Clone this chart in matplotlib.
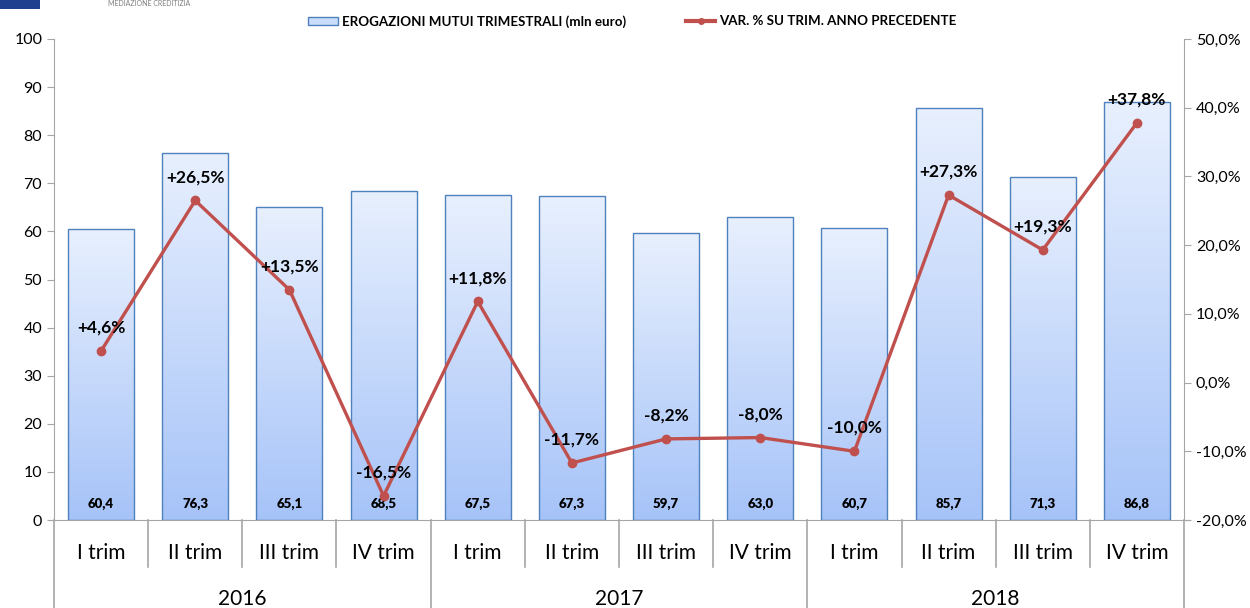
import matplotlib
matplotlib.use("Agg")
from matplotlib import pyplot as plt
from matplotlib.lines import Line2D
from matplotlib.patches import Patch, Rectangle
import matplotlib.ticker as ticker
import numpy as np

plt.rcParams['font.family'] = ['Lato', 'DejaVu Sans']

# Dati
trimestri = ['I trim', 'II trim', 'III trim', 'IV trim'] * 3
anni = ['2016', '2017', '2018']
erogazioni = [60.4, 76.3, 65.1, 68.5, 67.5, 67.3, 59.7, 63.0, 60.7, 85.7, 71.3, 86.8]
var_pct = [4.6, 26.5, 13.5, -16.5, 11.8, -11.7, -8.2, -8.0, -10.0, 27.3, 19.3, 37.8]

bar_edge = '#4f81bd'
line_col = '#c0504d'
axis_col = '#a6a6a6'

fig = plt.figure(figsize=(12.5, 6.08), dpi=100)
ax = fig.add_axes([54 / 1250, 88 / 608, 1130 / 1250, 481 / 608])
ax2 = ax.twinx()

x = np.arange(len(erogazioni))
bars = ax.bar(x, erogazioni, width=0.7, facecolor='none', edgecolor=bar_edge, linewidth=1.0, zorder=3)

# gradiente nelle barre
grad = np.linspace(0, 1, 256).reshape(-1, 1)
cmap = matplotlib.colors.LinearSegmentedColormap.from_list('g', ['#e8f0fe', '#a6c3f8'])
for b in bars:
    bx, by = b.get_x(), b.get_y()
    bw, bh = b.get_width(), b.get_height()
    im = ax.imshow(grad, cmap=cmap, aspect='auto', extent=[bx, bx + bw, by, by + bh],
                   origin='upper', zorder=2)
    im.set_clip_path(b)

ax.set_xlim(-0.5, len(x) - 0.5)
ax.set_ylim(0, 100)
ax.yaxis.set_major_locator(ticker.MultipleLocator(10))

for i, v in enumerate(erogazioni):
    ax.text(i, 3.4, f"{v:.1f}".replace('.', ','), ha='center', va='center',
            fontsize=9.5, fontweight='heavy', zorder=5)

# linea variazione
ax2.plot(x, var_pct, color=line_col, lw=2.4, marker='o', ms=6, zorder=6)
ax2.set_ylim(-20, 50)
ax2.yaxis.set_major_locator(ticker.MultipleLocator(10))
ax2.yaxis.set_major_formatter(ticker.FuncFormatter(lambda v, _: f"{v:.1f}%".replace('.', ',')))
for i, v in enumerate(var_pct):
    s = ("+" if v > 0 else "") + f"{v:.1f}%".replace('.', ',')
    ax2.annotate(s, (i, v), xytext=(0, 11), textcoords='offset points', ha='center',
                 va='bottom', fontsize=12.5, fontweight='bold', zorder=7)

# assi
for a in (ax, ax2):
    a.spines['top'].set_visible(False)
    for sp in ('left', 'right', 'bottom'):
        a.spines[sp].set_color(axis_col)
    a.tick_params(axis='y', direction='out', length=5, color=axis_col, labelsize=11.5)
ax2.spines['bottom'].set_visible(False)
ax2.spines['left'].set_visible(False)
ax.spines['right'].set_visible(False)
ax.set_xticks([])
ax.spines['bottom'].set_bounds(-0.5, len(x) - 0.45)

# etichette asse x a due livelli
tr = ax.get_xaxis_transform()
for i, t in enumerate(trimestri):
    ax.text(i, -0.069, t, transform=tr, ha='center', va='center', fontsize=15)
for k, yr in enumerate(anni):
    ax.text(4 * k + 1.5, -0.164, yr, transform=tr, ha='center', va='center', fontsize=15)
for b in range(len(x) + 1):
    depth = -0.19 if b % 4 == 0 else -0.098
    ax.plot([b - 0.5, b - 0.5], [0, depth], transform=tr, color=axis_col, lw=1.2, clip_on=False)

# legenda
handles = [Patch(facecolor='#c9dcfb', edgecolor=bar_edge, label='EROGAZIONI MUTUI TRIMESTRALI (mln euro)'),
           Line2D([0], [0], color=line_col, lw=3, marker='o', ms=4,
                  label='VAR. % SU TRIM. ANNO PRECEDENTE')]
fig.legend(handles=handles, loc='center', bbox_to_anchor=(0.506, 0.965), ncol=2, frameon=False,
           handlelength=2.2, handleheight=0.6, columnspacing=4.5, handletextpad=0.3,
           prop={'weight': 'bold', 'size': 9.6})

# logo (parziale)
fig.patches.append(Rectangle((0, 0.986), 40 / 1250, 0.014, transform=fig.transFigure,
                             facecolor='#1f3f8f', edgecolor='none'))
fig.text(108 / 1250, 1 - 4 / 608, 'MEDIAZIONE CREDITIZIA', fontsize=5, color='#7f7f7f',
         ha='left', va='center')

plt.savefig('out.png', dpi=100)
